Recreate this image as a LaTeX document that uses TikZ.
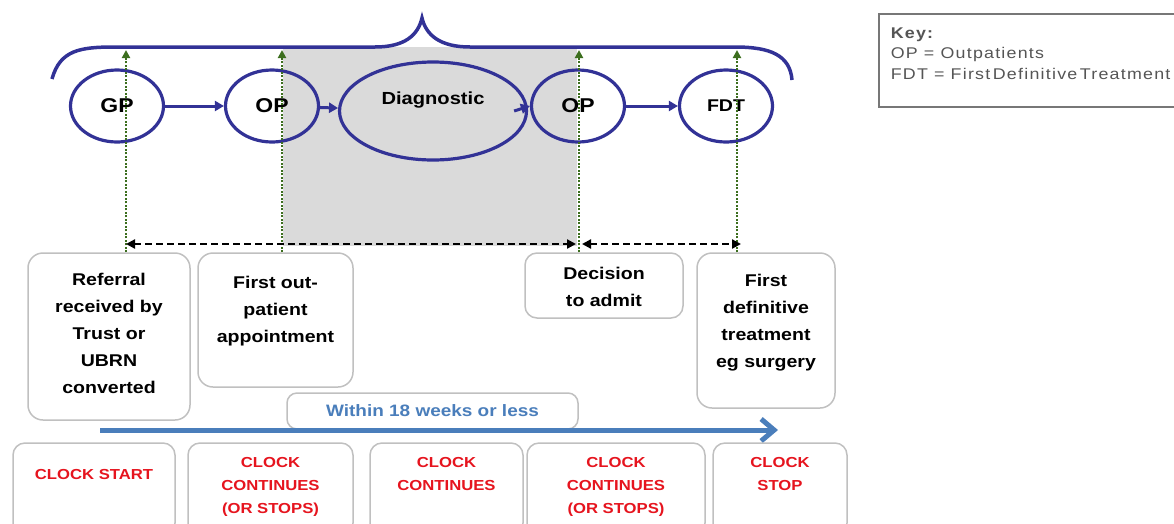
\documentclass[tikz,border=0pt]{standalone}
\usepackage{fontspec}
\setmainfont{Liberation Sans}[FakeStretch=1.15]
\newfontfamily\keyfont{Liberation Sans}[FakeStretch=1.15,LetterSpace=8]
\usetikzlibrary{arrows.meta,shapes.geometric}

\definecolor{navyline}{RGB}{50,50,150}
\definecolor{pathgreen}{RGB}{60,110,30}
\definecolor{diaggrey}{RGB}{218,218,218}
\definecolor{boxgrey}{RGB}{192,192,192}
\definecolor{clockred}{RGB}{230,20,30}
\definecolor{weekblue}{RGB}{74,126,187}
\definecolor{keygrey}{RGB}{85,85,85}

\newcommand{\evtext}[3]{\parbox[c][#1][t]{130pt}{\centering\vspace*{#2}#3}}

\tikzset{
  stage/.style={ellipse,draw=navyline,line width=3.2pt,inner sep=0pt,minimum width=93pt,minimum height=72pt,font=\fontsize{20}{20}\selectfont\bfseries},
  flow/.style={navyline,line width=3pt,-{Triangle[length=9pt,width=10pt]}},
  event/.style={rectangle,rounded corners=15pt,draw=boxgrey,line width=1.5pt,fill=white,inner sep=0pt,font=\fontsize{17}{27}\selectfont\bfseries},
  clock/.style={event,rounded corners=12pt,text=clockred,font=\fontsize{14.5}{23}\selectfont\bfseries},
  guide/.style={pathgreen,line width=2.5pt,dash pattern=on 2pt off 1.5pt,-{Triangle[length=8pt,width=8pt]}},
  waitline/.style={black,line width=2.2pt,dash pattern=on 7pt off 4pt,{Triangle[length=9pt,width=9pt]}-{Triangle[length=9pt,width=9pt]}},
  weeks/.style={weekblue,line width=5pt,-{Straight Barb[length=13pt,width=22pt]}},
  keybox/.style={rectangle,draw=keygrey!80,line width=1.5pt,inner xsep=12pt,inner ysep=0pt,text=keygrey,font=\keyfont\fontsize{15.5}{20.5}\selectfont},
}

\begin{document}
\begin{tikzpicture}[x=1pt,y=-1pt]
    \useasboundingbox (0,0) rectangle (1174,523);
    \clip (0,0) rectangle (1174,523);

    \fill[diaggrey] (283,47) rectangle (577,246);
    \draw[navyline,line width=3.5pt] (52,79) .. controls (60,50) and (80,47) .. (115,47) -- (375,47)
        .. controls (405,47) and (418,35) .. (422,18) .. controls (426,35) and (440,47) .. (470,47)
        -- (735,47) .. controls (770,47) and (790,55) .. (792,80);

    \node at (117,106) [stage] (gp) {GP};
    \node at (272,106) [stage] (op1) {OP};
    \node at (433,111) [stage,minimum width=187pt,minimum height=98pt,font=\fontsize{17.5}{17.5}\selectfont\bfseries,text depth=26pt] (diag) {Diagnostic};
    \node at (578,106) [stage] (op2) {OP};
    \node at (726,106) [stage,font=\fontsize{17}{17}\selectfont\bfseries] (fdt) {FDT};
    \draw[flow] (gp) -- (op1);
    \draw[flow] (op1) -- (diag);
    \draw[flow] ([xshift=-14pt]diag.east) -- (op2.west);
    \draw[flow] (op2) -- (fdt);

    \node at (109,336.5) [event,minimum width=162pt] (referral) {\evtext{167pt}{20pt}{Referral\\received by\\Trust or\\UBRN\\converted}};
    \node at (275.5,320) [event,minimum width=155pt] (firstop) {\evtext{134pt}{23pt}{First out-\\patient\\appointment}};
    \node at (604,285.5) [event,minimum width=158pt,rounded corners=12pt] (decision) {\evtext{65pt}{14pt}{Decision\\to admit}};
    \node at (766,330.5) [event,minimum width=138pt] (firsttreat) {\evtext{155pt}{21pt}{First\\definitive\\treatment\\eg surgery}};

    \coordinate (t1) at (126,50);
    \coordinate (t2) at (282,50);
    \coordinate (t3) at (579,50);
    \coordinate (t4) at (737,50);
    \draw[guide] (referral.north -| t1) -- (t1);
    \draw[guide] (firstop.north -| t2) -- (t2);
    \draw[guide] (decision.north -| t3) -- (t3);
    \draw[guide] (firsttreat.north -| t4) -- (t4);

    \coordinate (d1) at (126,244);
    \coordinate (d2) at (576,244);
    \coordinate (d3) at (582,244);
    \coordinate (d4) at (741,244);
    \draw[waitline] (d1) -- (d2);
    \draw[waitline] (d3) -- (d4);

    \node at (432.5,411) [event,rounded corners=10pt,minimum width=291pt,minimum height=36pt,text=weekblue,font=\fontsize{16.5}{16.5}\selectfont\bfseries] (within) {Within 18 weeks or less};
    \coordinate (w1) at (100,430);
    \coordinate (w2) at (778,430);
    \draw[weeks] (w1) -- (w2);

    \node at (94,489) [clock,minimum width=162pt] (clock1) {\evtext{92pt}{26pt}{CLOCK START}};
    \node at (270.5,489) [clock,minimum width=165pt] (clock2) {\evtext{92pt}{14pt}{CLOCK\\CONTINUES\\(OR STOPS)}};
    \node at (446.5,489) [clock,minimum width=153pt] (clock3) {\evtext{92pt}{14pt}{CLOCK\\CONTINUES}};
    \node at (616,489) [clock,minimum width=178pt] (clock4) {\evtext{92pt}{14pt}{CLOCK\\CONTINUES\\(OR STOPS)}};
    \node at (780,489) [clock,minimum width=134pt] (clock5) {\evtext{92pt}{14pt}{CLOCK\\STOP}};

    \node at (878,13) [keybox,anchor=north west] (key) {\parbox[c][93pt][t]{290pt}{\raggedright\vspace*{14pt}\textbf{Key:}\\OP = Outpatients\\FDT = First\,Definitive\,Treatment}};
\end{tikzpicture}
\end{document}
